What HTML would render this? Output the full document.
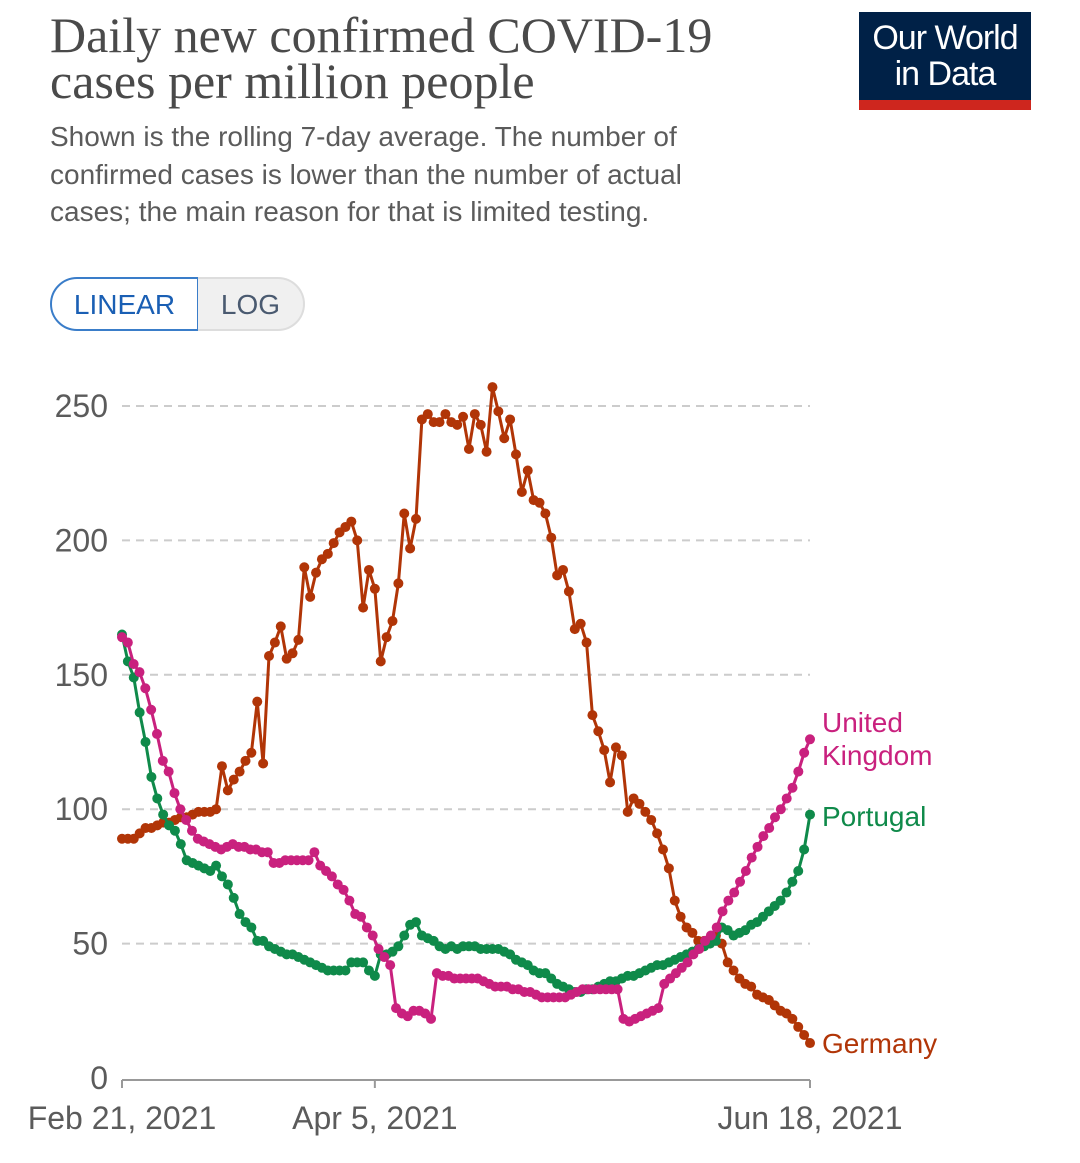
<!DOCTYPE html>
<html><head><meta charset="utf-8">
<style>
body{margin:0;background:#fff;width:1080px;height:1163px;overflow:hidden;position:relative;font-family:"Liberation Sans",sans-serif}
.title{position:absolute;left:50px;top:12px;font-family:"Liberation Serif",serif;font-size:50px;line-height:46px;color:#4a4a4a;margin:0;font-weight:normal}
.sub{position:absolute;left:50px;top:118px;font-size:28px;line-height:37.5px;color:#5b5b5b;width:700px}
.logo{position:absolute;left:859px;top:12px;width:172px;height:98px;background:#002147;color:#fff;text-align:center;font-size:34px;line-height:36px;box-sizing:border-box;padding-top:8px;letter-spacing:-1px}
.logo .bar{position:absolute;left:0;bottom:0;width:100%;height:10px;background:#ce261e}
.btn{position:absolute;top:277px;height:54px;box-sizing:border-box;font-size:28px;line-height:52px;text-align:center}
</style></head><body>
<h1 class="title">Daily new confirmed COVID-19<br>cases per million people</h1>
<div class="sub">Shown is the rolling 7-day average. The number of confirmed cases is lower than the number of actual cases; the main reason for that is limited testing.</div>
<div class="logo">Our World<br>in Data<div class="bar"></div></div>
<div class="btn" style="left:50px;width:149px;border:2px solid #3a7dc9;border-radius:27px 0 0 27px;color:#1a5fb4;background:#fff">LINEAR</div>
<div class="btn" style="left:198px;width:107px;border:2px solid #ddd;border-left:none;border-radius:0 27px 27px 0;color:#4a5a70;background:#f0f0f0">LOG</div>
<svg id="chart" width="1080" height="1163" style="position:absolute;left:0;top:0"></svg>
<script>
const yTicks=[0,50,100,150,200,250];
const xTickDays=[0,43,117];
const xTickLabels=["Feb 21, 2021","Apr 5, 2021","Jun 18, 2021"];
const seriesNames=["Germany","Portugal","United Kingdom"];
const germany=[89,89,89,91,93,93,94,95,95,96,97,97,98,99,99,99,100,116,107,111,114,118,121,140,117,157,162,168,156,158,163,190,179,188,193,195,199,203,205,207,200,175,189,182,155,164,170,184,210,197,208,245,247,244,244,247,244,243,246,234,247,243,233,257,248,238,245,232,218,226,215,214,210,201,187,189,181,167,169,162,135,129,122,110,123,120,99,104,102,99,96,91,85,78,66,60,56,54,51,51,52,53,50,43,40,37,35,34,31,30,29,27,25,24,22,19,16,13];
const portugal=[165,155,149,136,125,112,104,98,94,92,87,81,80,79,78,77,79,75,72,67,61,58,56,51,51,49,48,47,46,46,45,44,43,42,41,40,40,40,40,43,43,43,40,38,46,46,47,49,53,57,58,53,52,51,49,48,49,48,49,49,49,48,48,48,48,47,46,44,43,42,40,39,39,37,35,34,33,32,32,33,33,34,35,36,36,37,38,38,39,40,41,42,42,43,44,45,46,47,48,49,50,51,56,55,53,54,55,57,58,60,62,64,66,69,73,77,85,98];
const uk=[164,162,154,151,145,137,128,118,114,106,100,96,92,89,88,87,86,85,86,87,86,86,85,85,84,84,80,80,81,81,81,81,81,84,79,77,75,72,70,66,61,60,56,53,48,45,42,26,24,23,25,25,24,22,39,38,38,37,37,37,37,37,36,35,34,34,34,33,33,32,32,31,30,30,30,30,30,31,32,33,33,33,33,33,33,33,22,21,22,23,24,25,26,35,37,39,41,43,46,48,51,53,56,62,66,69,73,77,82,86,90,93,97,100,104,108,114,121,126];
const colors={Germany:"#b13507",Portugal:"#0f8a4a",UK:"#c9217e"};
const x0=122,x1=810,y0=1078,y1=406,nDays=117,vMax=250;
const X=d=>x0+(x1-x0)*d/nDays;
const Y=v=>y0-(y0-y1)*v/vMax;
const svg=document.getElementById('chart');
const NS="http://www.w3.org/2000/svg";
function mk(tag,attrs,parent){const e=document.createElementNS(NS,tag);for(const k in attrs)e.setAttribute(k,attrs[k]);(parent||svg).appendChild(e);return e;}
yTicks.forEach(v=>{
  if(v>0){const g=mk('line',{x1:122,x2:810,y1:Y(v),y2:Y(v),stroke:'#ccc','stroke-width':2,'stroke-dasharray':'8,6'});
  
  }
  const t=mk('text',{x:108,y:Y(v)+11,'text-anchor':'end','font-size':32,fill:'#5b5b5b','font-family':'Liberation Sans, sans-serif'});
  t.textContent=v;
  
  
});
const ax=mk('line',{x1:122,x2:810,y1:y0+2,y2:y0+2,stroke:'#999','stroke-width':2});


xTickDays.forEach((d,i)=>{
  const tk=mk('line',{x1:X(d),x2:X(d),y1:y0+2,y2:y0+10,stroke:'#999','stroke-width':2});
  
  
  const t=mk('text',{x:X(d),y:1129,'text-anchor':'middle','font-size':32,fill:'#5b5b5b','font-family':'Liberation Sans, sans-serif'});
  t.textContent=xTickLabels[i];
  
  
});
function drawSeries(arr,color,name){
  const g=mk('g',{});
  
  
  const pts=arr.map((v,i)=>X(i*nDays/(arr.length-1))+','+Y(v)).join(' ');
  const pl=mk('polyline',{points:pts,fill:'none',stroke:color,'stroke-width':3,'stroke-linejoin':'round'},g);
  
  
  arr.forEach((v,i)=>{
    const c=mk('circle',{cx:X(i*nDays/(arr.length-1)),cy:Y(v),r:5,fill:color},g);
    
    
  });
}
drawSeries(germany,colors.Germany,'germany');
drawSeries(portugal,colors.Portugal,'portugal');
drawSeries(uk,colors.UK,'united-kingdom');
function label(lines,y,color,name){
  lines.forEach((s,i)=>{
    const t=mk('text',{x:822,y:y+i*33,'font-size':28,fill:color,'font-family':'Liberation Sans, sans-serif'});
    t.textContent=s;
    
    
  });
}
label(["United","Kingdom"],732,colors.UK,'legend-united-kingdom');
label(["Portugal"],826,colors.Portugal,'legend-portugal');
label(["Germany"],1053,colors.Germany,'legend-germany');
</script>
</body></html>
